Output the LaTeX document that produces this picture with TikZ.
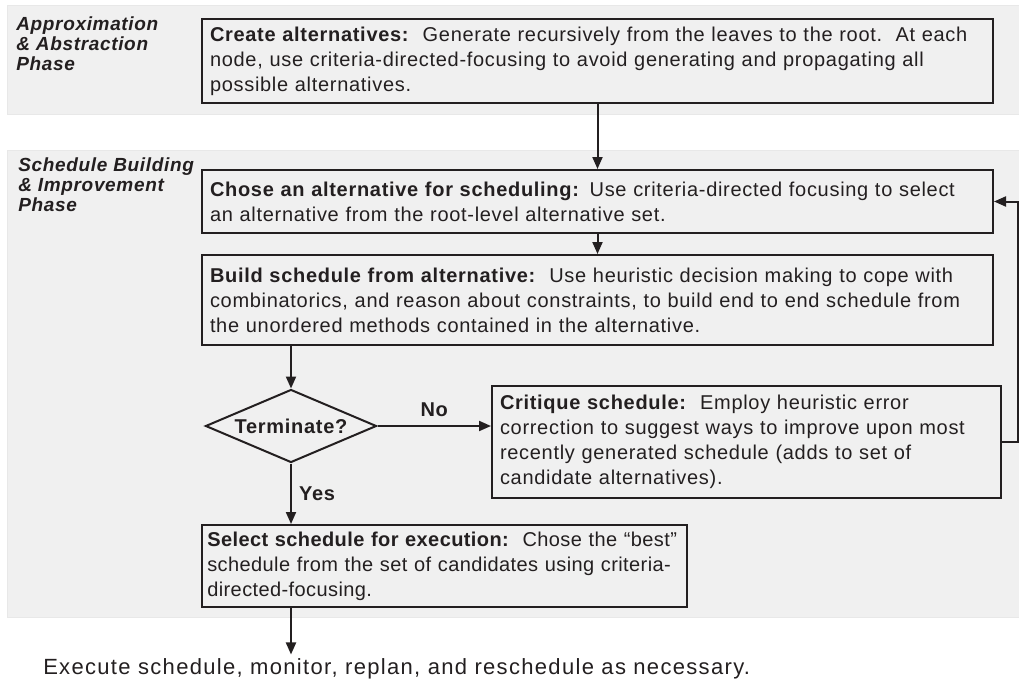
\documentclass[tikz,border=0pt]{standalone}
\usepackage{fontspec}
\setmainfont{Liberation Sans}
\newfontfamily\boxfont[LetterSpace=3.5]{Liberation Sans}
\newfontfamily\selfont[LetterSpace=2]{Liberation Sans}
\newfontfamily\execfont[LetterSpace=6]{Liberation Sans}
\usepackage{tikz}
\usetikzlibrary{arrows.meta,calc,shapes.geometric,positioning}
\definecolor{bandgray}{gray}{0.94}
\definecolor{inkgray}{HTML}{231F20}
\newcommand{\bodysize}{\boxfont\fontsize{15pt}{18.75pt}\selectfont}

\begin{document}
\begin{tikzpicture}[x=0.75pt,y=-0.75pt,font=\bodysize,text=inkgray,
  band/.style={fill=bandgray,draw=black!9,line width=0.6pt},
  box/.style n args={2}{draw=inkgray,line width=1.5pt,fill=bandgray,align=left,inner xsep=6pt,inner ysep=0pt,text width=#1,minimum height=#2},
  phase/.style={font=\boxfont\fontsize{14.25pt}{15pt}\selectfont\bfseries\itshape,align=left,anchor=north west,inner sep=0pt},
  arr/.style={draw=inkgray,line width=1.5pt,-{Triangle[length=9pt,width=7.5pt]}}]
\useasboundingbox (0,0) rectangle (1019,681);
% phase bands
\draw[band] (7,5) rectangle (1019,114);
\draw[band] (7,150) rectangle (1019,617);
\node[phase] (ph1) at (16,16) {Approximation\\\& Abstraction\\Phase};
\node[phase] (ph2) at (18,157) {Schedule Building\\\& Improvement\\Phase};
% steps
\node[box={581.25pt}{63pt}] (create) at (597.5,61) {\textbf{Create alternatives:}\ \ Generate recursively from the leaves to the root.\ \ At each\\node, use criteria-directed-focusing to avoid generating and propagating all\\possible alternatives.};
\node[box={581.25pt}{47.25pt}] (chose) at (597.5,201.5) {\textbf{Chose an alternative for scheduling:} Use criteria-directed focusing to select\\an alternative from the root-level alternative set.};
\node[box={581.25pt}{67.5pt}] (build) at (597.5,300) {\textbf{Build schedule from alternative:}\ \ Use heuristic decision making to cope with\\combinatorics, and reason about constraints, to build end to end schedule from\\the unordered methods contained in the alternative.};
\node[draw=inkgray,line width=1.5pt,diamond,aspect=2.34,inner sep=0pt,minimum width=128.25pt,minimum height=54.75pt,font=\bodysize\bfseries] (dec) at (291,426) {Terminate?};
\node[box={369.75pt}{84pt}] (crit) at (746.5,442) {\textbf{Critique schedule:}\ \ Employ heuristic error\\correction to suggest ways to improve upon most\\recently generated schedule (adds to set of\\candidate alternatives).};
\node[box={355.75pt}{61.5pt},inner xsep=4pt,font=\selfont\fontsize{15pt}{18.75pt}\selectfont] (sel) at (444.5,566) {\textbf{Select schedule for execution:}\ \ Chose the “best”\\schedule from the set of candidates using criteria-\\directed-focusing.};
\node[anchor=west,inner sep=3pt,font=\execfont\fontsize{16.5pt}{18.75pt}\selectfont] (exec) at (39,669) {Execute schedule, monitor, replan, and reschedule as necessary.};
% connectors
\draw[arr] (create) -- (chose);
\draw[arr] (chose) -- (build);
\draw[arr] (build.south -| dec.north) -- (dec.north);
\draw[arr] (dec.east) -- node[above=3pt,font=\bodysize\bfseries]{No} (dec.east -| crit.west);
\draw[arr] (dec.south) -- node[right=2pt,font=\bodysize\bfseries]{Yes} (dec.south |- sel.north);
\draw[arr] (crit.east) -- ++(16,0) |- (chose.east);
\draw[arr] (sel.south -| dec.south) -- (exec.north -| dec.south);
\end{tikzpicture}
\end{document}
